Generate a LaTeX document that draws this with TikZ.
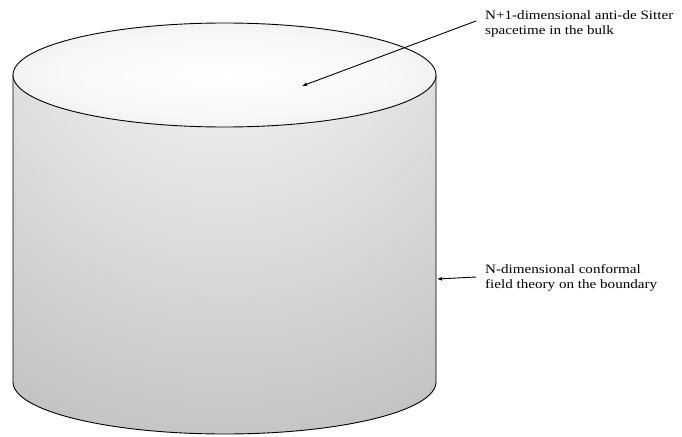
\documentclass[tikz,border=0pt]{standalone}
\usepackage{fontspec}
\setmainfont{Liberation Serif}
\newfontfamily\lblfont[FakeStretch=1.18]{Liberation Serif}
\usetikzlibrary{arrows.meta}
\pgfdeclareradialshading{bodyrad}{\pgfpoint{0bp}{0bp}}{color(0bp)=(white); color(50bp)=(black!56)}
\pgfdeclareradialshading{lidrad}{\pgfpoint{0bp}{0bp}}{color(0bp)=(white); color(20bp)=(black!3); color(50bp)=(black!14)}
\begin{document}
\begin{tikzpicture}[x=1pt,y=-1pt,
  lbl/.style={align=left,anchor=west,inner sep=0pt,font=\lblfont\fontsize{12.8}{15}\selectfont},
  pointer/.style={line width=0.9pt,-{Latex[length=5pt,width=4pt]}},
  rim/.style={line width=0.9pt}]
\useasboundingbox (0,0) rectangle (682,436);
% body
\begin{scope}
\clip (13,75) -- (13,382) arc[start angle=180,end angle=0,x radius=211.5,y radius=52] -- (436,75) -- cycle;
\shade[shading=bodyrad] (224.5,-50) ellipse[x radius=537.6,y radius=600];
\end{scope}
\draw[rim] (13,75) -- (13,382) arc[start angle=180,end angle=0,x radius=211.5,y radius=52] -- (436,75);
% top
\shade[shading=lidrad] (224.5,75) ellipse[x radius=211.5,y radius=52];
\draw[rim] (224.5,75) ellipse[x radius=211.5,y radius=52];
% labels
\node[lbl] (bulk) at (485,24) {N+1-dimensional anti-de Sitter\\spacetime in the bulk};
\node[lbl] (cft) at (485,278) {N-dimensional conformal\\field theory on the boundary};
\coordinate (bulkpt) at (302,86);
\coordinate (wall) at (437,279);
\draw[pointer] ([xshift=-9pt,yshift=3pt]bulk.west) -- (bulkpt);
\draw[pointer] ([xshift=-9pt,yshift=1pt]cft.west) -- (wall);
\end{tikzpicture}
\end{document}
